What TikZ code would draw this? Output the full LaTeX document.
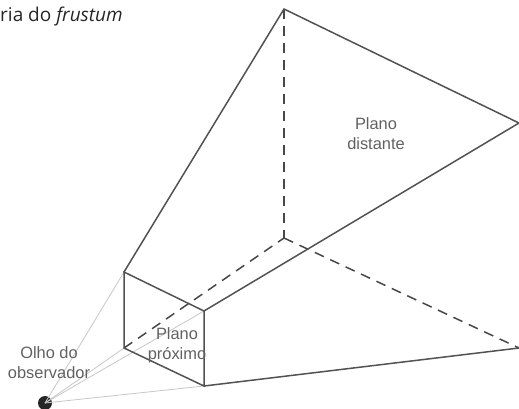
\documentclass[tikz,border=0pt]{standalone}
\usepackage{fontspec}
\setmainfont{Liberation Sans}
\newfontfamily\titlefont{Open Sans}
\begin{document}
\begin{tikzpicture}[x=1pt,y=-1pt,
  edge/.style={draw=black!68,line width=1.5pt,line cap=round},
  hidden/.style={draw=black!72,line width=1.5pt,dash pattern=on 10pt off 7pt},
  sight/.style={draw=black!22,line width=0.8pt},
  lbl/.style={font=\fontsize{16.4}{20}\selectfont,text=black!62,align=center,inner sep=0pt}]
\useasboundingbox (0,0) rectangle (519,408);
\coordinate (ntl) at (124,272);
\coordinate (ntr) at (204,311);
\coordinate (nbl) at (124,348);
\coordinate (nbr) at (204,386);
\coordinate (ftl) at (284,9);
\coordinate (ftr) at (519,123);
\coordinate (fbl) at (284,238);
\coordinate (fbr) at (519,348);
\node[fill=black!85,circle,inner sep=0pt,minimum size=14pt] (eye) at (45,403) {};
\draw[sight] (eye.center) -- (ntl);
\draw[sight] (eye.center) -- (ntr);
\draw[sight] (eye.center) -- (nbl);
\draw[sight] (eye.center) -- (nbr);
\draw[hidden] (ftl) -- (fbl);
\draw[hidden] (fbl) -- (fbr);
\draw[hidden] (nbl) -- (fbl);
\draw[edge] (ntl) -- (ftl) -- (ftr) -- (ntr);
\draw[edge] (nbr) -- (fbr);
\draw[edge] (ntl) -- (ntr) -- (nbr) -- (nbl) -- cycle;
\node[lbl] (far) at (376,133.5) {Plano\\distante};
\node[lbl] (near) at (177,345) {Plano\\próximo};
\node[lbl] (obs) at (49,362.5) {Olho do\\observador};
\node[anchor=west,inner sep=0pt,font=\titlefont\fontsize{19}{22}\selectfont,text=black!85] (title) at (0,16.5) {ria do \textit{frustum}};
\end{tikzpicture}
\end{document}
